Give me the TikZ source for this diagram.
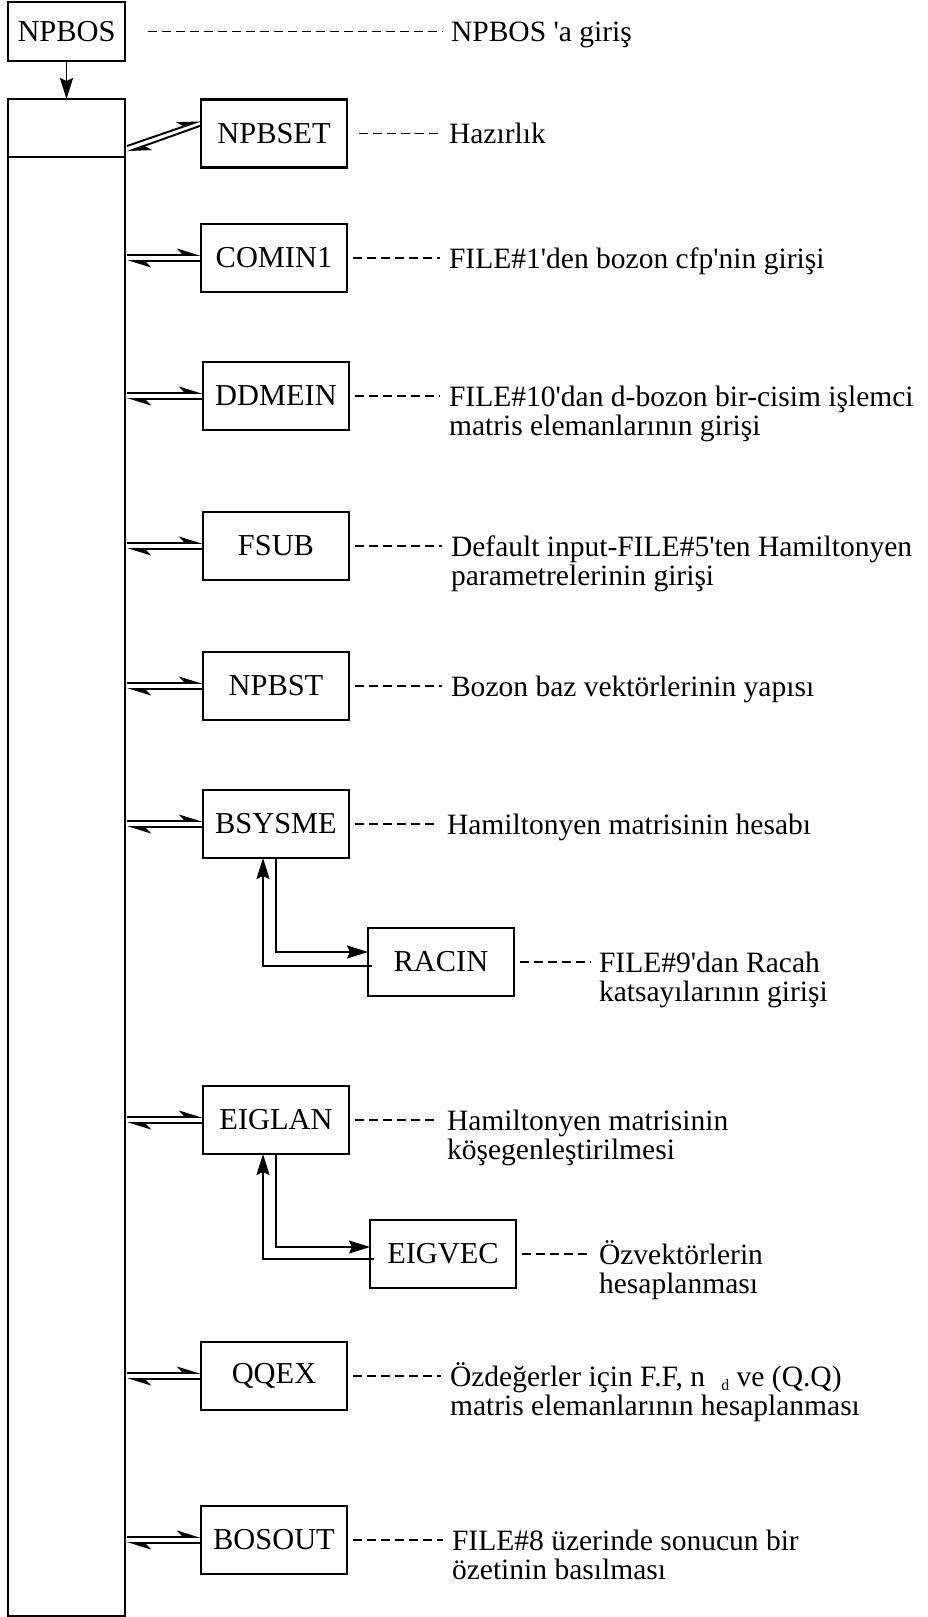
\documentclass[tikz,border=0pt]{standalone}
\usepackage{fontspec}
\setmainfont{Liberation Serif}
\usetikzlibrary{arrows.meta,calc}
\newcommand{\remtext}[1]{\begin{tabular}[t]{@{}l@{}}#1\end{tabular}}
\newcommand{\apos}{\textquotesingle}

\begin{document}
\begin{tikzpicture}[x=0.02cm, y=-0.02cm, line width=1.2pt,
    every node/.style={font=\fontsize{17.3}{16.5}\selectfont},
    box/.style={draw, minimum width=2.92cm, minimum height=1.36cm, inner sep=0, outer sep=0},
    remark/.style={font=\fontsize{16.8}{16.5}\selectfont, anchor=base west, inner sep=0},
    leader/.style={dash pattern=on 0.18cm off 0.1cm, line width=1pt, shorten <=0.12cm, shorten >=0.16cm},
    call/.style={-{Stealth[harpoon, length=0.42cm, width=0.26cm, inset=0.12cm]}, line width=1.1pt},
    sub/.style={-{Stealth[length=0.42cm, width=0.26cm, inset=0.06cm]}, line width=1.1pt}]
  \useasboundingbox (0,0) rectangle (928,1617);

  % main routine
  \node[box, minimum width=2.34cm, minimum height=1.18cm] (npbos) at (66.5,31.5) {NPBOS};
  \node[box, minimum width=2.34cm, minimum height=1.16cm] (entry) at (66.5,128) {};
  \node[box, minimum width=2.34cm, minimum height=29.18cm, anchor=north] (body) at (entry.south) {};
  \draw[sub] (npbos) -- (entry);

  % subroutines
  \node[box] (npbset) at (274,133.5) {NPBSET};
  \node[box] (comin) at (274,258) {COMIN1};
  \node[box] (ddmein) at (276,396) {DDMEIN};
  \node[box] (fsub) at (276,546) {FSUB};
  \node[box] (npbst) at (276,686) {NPBST};
  \node[box] (bsysme) at (276,824) {BSYSME};
  \node[box] (racin) at (441,962) {RACIN};
  \node[box] (eiglan) at (276,1120) {EIGLAN};
  \node[box] (eigvec) at (443,1254) {EIGVEC};
  \node[box] (qqex) at (274,1376) {QQEX};
  \node[box] (bosout) at (274,1540) {BOSOUT};

  % calls from the main routine
  \draw[call] ($(entry.east)+(2,18)$) -- ($(npbset.west)+(0,-13)$);
  \draw[call] ($(npbset.west)+(0,-8)$) -- ($(entry.east)+(2,24)$);
  \foreach \b in {comin,ddmein,fsub,npbst,bsysme,eiglan,qqex,bosout}{
    \draw[call] ($(body.east |- \b.west)+(2,-3)$) -- ($(\b.west)+(0,-3)$);
    \draw[call] ($(\b.west)+(0,3)$) -- ($(body.east |- \b.west)+(2,3)$);
  }

  % nested calls
  \draw[sub] (bsysme.south) |- ($(racin.west)+(0,-10)$);
  \draw[sub] ($(racin.west)+(4,4)$) -| ($(bsysme.south)+(-13,0)$);
  \draw[sub] (eiglan.south) |- ($(eigvec.west)+(0,-7)$);
  \draw[sub] ($(eigvec.west)+(4,5)$) -| ($(eiglan.south)+(-13,0)$);

  % remarks
  \node[remark] (npbos-r) at (450,41.5) {\remtext{NPBOS \apos a giriş}};
  \node[remark] (npbset-r) at (448,143.5) {\remtext{Hazırlık}};
  \node[remark] (comin-r) at (448,268) {\remtext{FILE\#1\apos den bozon cfp\apos nin girişi}};
  \node[remark] (ddmein-r) at (448,406) {\remtext{FILE\#10\apos dan d-bozon bir-cisim işlemci\\matris elemanlarının girişi}};
  \node[remark] (fsub-r) at (450,556) {\remtext{Default input-FILE\#5\apos ten Hamiltonyen\\parametrelerinin girişi}};
  \node[remark] (npbst-r) at (450,696) {\remtext{Bozon baz vektörlerinin yapısı}};
  \node[remark] (bsysme-r) at (446,834) {\remtext{Hamiltonyen matrisinin hesabı}};
  \node[remark] (racin-r) at (598,972) {\remtext{FILE\#9\apos dan Racah\\katsayılarının girişi}};
  \node[remark] (eiglan-r) at (446,1130) {\remtext{Hamiltonyen matrisinin\\köşegenleştirilmesi}};
  \node[remark] (eigvec-r) at (598,1264) {\remtext{Özvektörlerin\\hesaplanması}};
  \node[remark] (qqex-r) at (449,1386) {\remtext{Özdeğerler için F.F, n\hspace{0.55em}\raisebox{-0.3ex}{\small d} ve (Q.Q)\\matris elemanlarının hesaplanması}};
  \node[remark] (bosout-r) at (451,1550) {\remtext{FILE\#8 üzerinde sonucun bir\\özetinin basılması}};

  \draw[leader, shorten <=0.46cm] (npbos.east) -- (npbos.east -| npbos-r.west);
  \draw[leader, shorten <=0.24cm] (npbset.east) -- (npbset.east -| npbset-r.west);
  \foreach \b in {comin,ddmein,fsub,npbst,bsysme,racin,eiglan,eigvec,qqex,bosout}
    \draw[leader] (\b.east) -- (\b.east -| \b-r.west);
\end{tikzpicture}
\end{document}
